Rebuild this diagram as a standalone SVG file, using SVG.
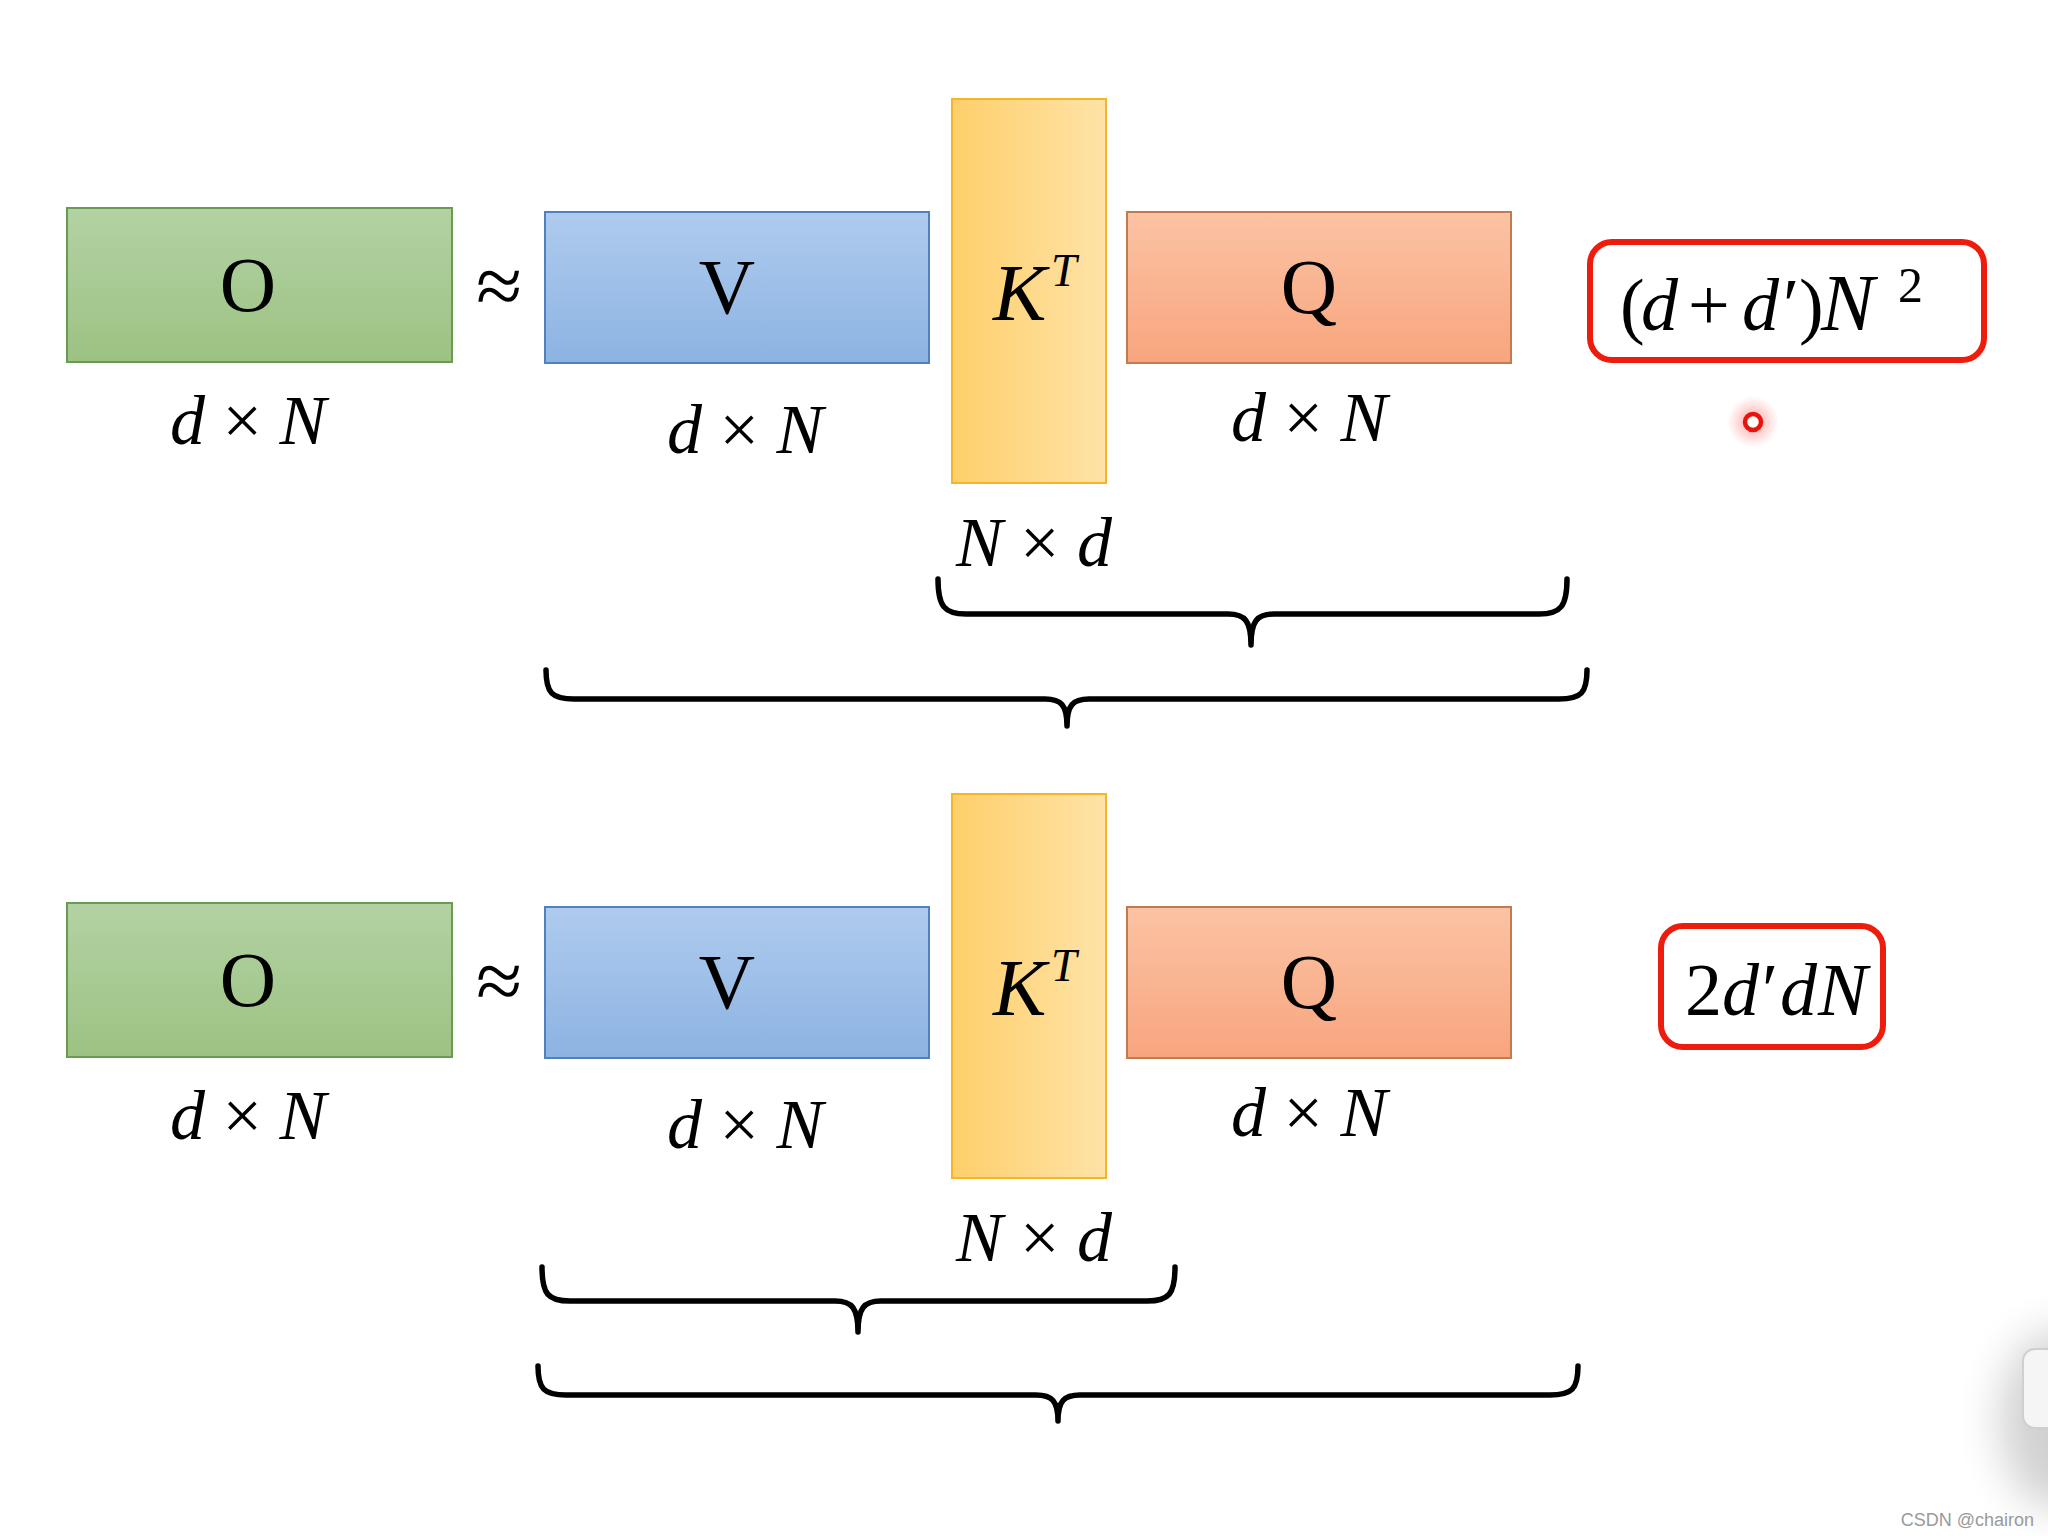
<svg xmlns="http://www.w3.org/2000/svg" width="2048" height="1536" viewBox="0 0 2048 1536">
<style>
.m{font-family:"Liberation Serif","DejaVu Serif",serif;fill:#000}
.i{font-style:italic}
.big{font-size:78px}
.dim{font-size:70px}
.brace{fill:none;stroke:#000;stroke-width:5.5;stroke-linecap:round;stroke-linejoin:round}
.red{fill:#fff;stroke:#ee1c0c;stroke-width:6}
.wm{font-family:"Liberation Sans","DejaVu Sans",sans-serif;font-size:18px;fill:#9a9a9a}
</style>
<defs>
<linearGradient id="gG" x1="0" y1="0" x2="0" y2="1"><stop offset="0" stop-color="#b3d2a3"/><stop offset="1" stop-color="#9cc283"/></linearGradient>
<linearGradient id="gB" x1="0" y1="0" x2="0" y2="1"><stop offset="0" stop-color="#afcbee"/><stop offset="1" stop-color="#8cb3e2"/></linearGradient>
<linearGradient id="gK" x1="0" y1="0" x2="1" y2="0"><stop offset="0" stop-color="#fecf6b"/><stop offset="1" stop-color="#fee3a7"/></linearGradient>
<linearGradient id="gQ" x1="0" y1="0" x2="0" y2="1"><stop offset="0" stop-color="#fbc3a4"/><stop offset="1" stop-color="#f8a57e"/></linearGradient>
<radialGradient id="glow"><stop offset="0" stop-color="#ff5050" stop-opacity="0.6"/><stop offset="1" stop-color="#ff8080" stop-opacity="0"/></radialGradient>
<filter id="blur" x="-1" y="-1" width="3" height="3"><feGaussianBlur stdDeviation="22"/></filter>
</defs>
<rect width="2048" height="1536" fill="#fff"/>

<!-- Top row -->
<g id="top-O"><rect x="67" y="208" width="385" height="154" fill="url(#gG)" stroke="#6b9a52" stroke-width="2"/><text class="m big" x="248" y="311" text-anchor="middle">O</text><text class="m dim" x="248" y="444" text-anchor="middle"><tspan class="i">d</tspan> × <tspan class="i">N</tspan></text></g>
<g id="top-approx"><text class="m" font-size="84" x="499" y="314" text-anchor="middle">≈</text></g>
<g id="top-V"><rect x="545" y="212" width="384" height="151" fill="url(#gB)" stroke="#4f81bd" stroke-width="2"/><text class="m big" x="727" y="313" text-anchor="middle">V</text><text class="m dim" x="745" y="453" text-anchor="middle"><tspan class="i">d</tspan> × <tspan class="i">N</tspan></text></g>
<g id="top-K"><rect x="952" y="99" width="154" height="384" fill="url(#gK)" stroke="#f4b628" stroke-width="2"/><text class="m i" font-size="80" x="993" y="320">K</text><text class="m i" font-size="46" x="1051" y="286">T</text><text class="m dim" x="1034" y="566" text-anchor="middle"><tspan class="i">N</tspan> × <tspan class="i">d</tspan></text></g>
<g id="top-Q"><rect x="1127" y="212" width="384" height="151" fill="url(#gQ)" stroke="#c27a4f" stroke-width="2"/><text class="m big" x="1309" y="313" text-anchor="middle">Q</text><text class="m dim" x="1309" y="441" text-anchor="middle"><tspan class="i">d</tspan> × <tspan class="i">N</tspan></text></g>
<g id="top-cost"><rect class="red" x="1590" y="242" width="394" height="118" rx="22"/>
<text class="m" font-size="74" y="330"><tspan x="1620">(</tspan><tspan class="i" x="1641">d</tspan><tspan x="1688">+</tspan><tspan class="i" x="1742">d</tspan><tspan x="1783">′</tspan><tspan x="1799">)</tspan><tspan class="i" x="1821" font-size="80">N</tspan></text>
<text class="m" font-size="50" x="1898" y="302">2</text></g>
<g id="pointer"><circle cx="1753" cy="422" r="26" fill="url(#glow)"/><circle cx="1753" cy="422" r="8" fill="#fff" stroke="#e8140c" stroke-width="4.5"/></g>

<!-- Bottom row -->
<g id="bot-O"><rect x="67" y="903" width="385" height="154" fill="url(#gG)" stroke="#6b9a52" stroke-width="2"/><text class="m big" x="248" y="1006" text-anchor="middle">O</text><text class="m dim" x="248" y="1139" text-anchor="middle"><tspan class="i">d</tspan> × <tspan class="i">N</tspan></text></g>
<g id="bot-approx"><text class="m" font-size="84" x="499" y="1009" text-anchor="middle">≈</text></g>
<g id="bot-V"><rect x="545" y="907" width="384" height="151" fill="url(#gB)" stroke="#4f81bd" stroke-width="2"/><text class="m big" x="727" y="1008" text-anchor="middle">V</text><text class="m dim" x="745" y="1148" text-anchor="middle"><tspan class="i">d</tspan> × <tspan class="i">N</tspan></text></g>
<g id="bot-K"><rect x="952" y="794" width="154" height="384" fill="url(#gK)" stroke="#f4b628" stroke-width="2"/><text class="m i" font-size="80" x="993" y="1015">K</text><text class="m i" font-size="46" x="1051" y="981">T</text><text class="m dim" x="1034" y="1261" text-anchor="middle"><tspan class="i">N</tspan> × <tspan class="i">d</tspan></text></g>
<g id="bot-Q"><rect x="1127" y="907" width="384" height="151" fill="url(#gQ)" stroke="#c27a4f" stroke-width="2"/><text class="m big" x="1309" y="1008" text-anchor="middle">Q</text><text class="m dim" x="1309" y="1136" text-anchor="middle"><tspan class="i">d</tspan> × <tspan class="i">N</tspan></text></g>
<g id="bot-cost"><rect class="red" x="1661" y="926" width="222" height="121" rx="22"/>
<text class="m" font-size="74" y="1015"><tspan x="1685">2</tspan><tspan class="i" x="1722">d</tspan><tspan x="1762">′</tspan><tspan class="i" x="1780">d</tspan><tspan class="i" x="1818">N</tspan></text></g>

<!-- Braces -->
<g id="connectors">
<path class="brace" d="M938,579 C938,606 944,614 966,614 L1228,614 C1245,614 1251,621 1251,645 C1251,621 1257,614 1274,614 L1539,614 C1561,614 1567,606 1567,579"/>
<path class="brace" d="M546,670 C546,693 552,699 574,699 L1045,699 C1061,699 1067,705 1067,726 C1067,705 1073,699 1089,699 L1559,699 C1581,699 1587,693 1587,670"/>
<path class="brace" d="M542,1267 C542,1294 548,1301 570,1301 L835,1301 C852,1301 858,1308 858,1332 C858,1308 864,1301 881,1301 L1147,1301 C1169,1301 1175,1294 1175,1267"/>
<path class="brace" d="M538,1366 C538,1389 544,1395 566,1395 L1036,1395 C1052,1395 1058,1401 1058,1421 C1058,1401 1064,1395 1080,1395 L1550,1395 C1572,1395 1578,1389 1578,1366"/>
</g>

<!-- UI artefact and watermark -->
<ellipse cx="2060" cy="1420" rx="60" ry="90" fill="#000" opacity="0.18" filter="url(#blur)"/>
<rect x="2023" y="1349" width="60" height="79" rx="12" fill="#f5f5f5" stroke="#cfcfcf" stroke-width="2"/>
<text class="wm" x="2034" y="1526" text-anchor="end">CSDN @chairon</text>
</svg>
